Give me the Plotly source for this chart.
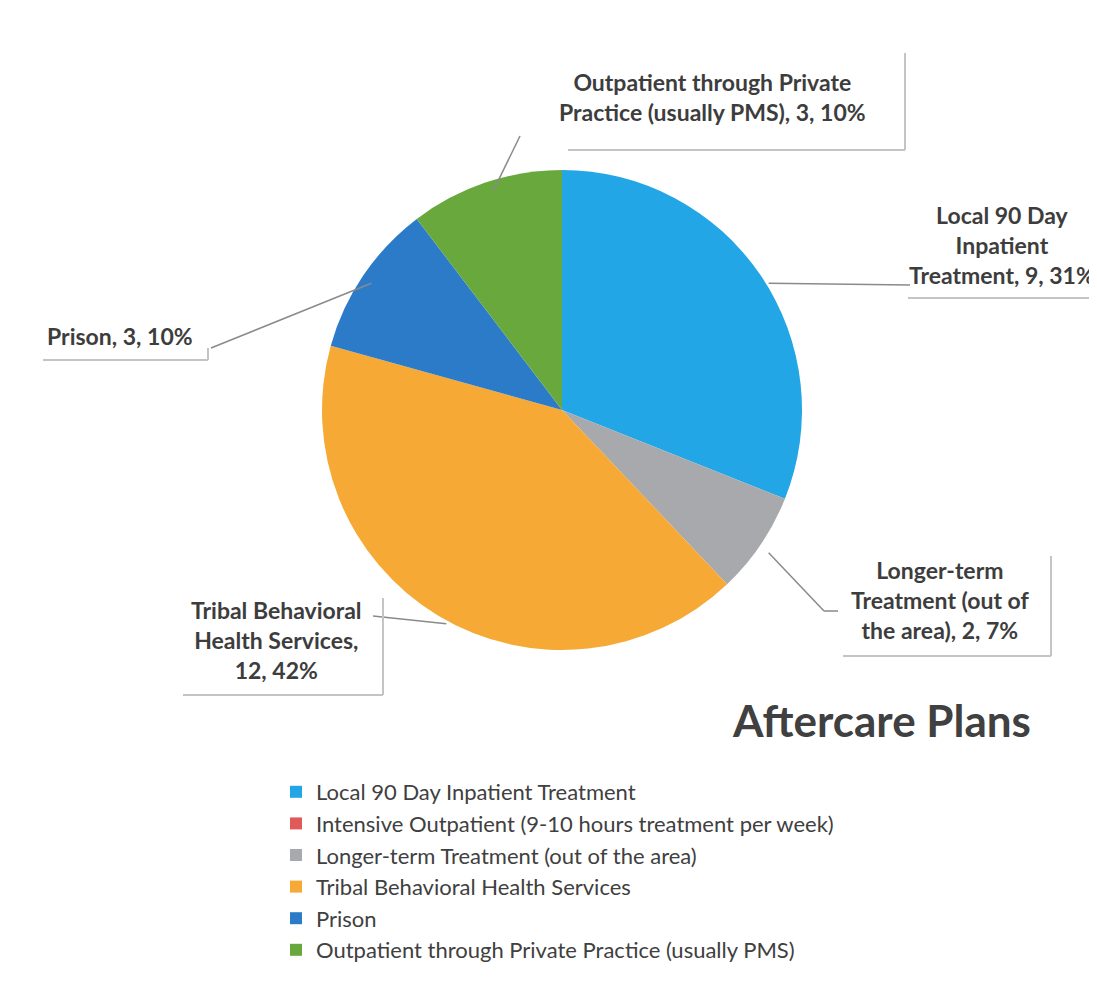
import math
import plotly.graph_objects as go

categories = [
    "Local 90 Day Inpatient Treatment",
    "Intensive Outpatient (9-10 hours treatment per week)",
    "Longer-term Treatment (out of the area)",
    "Tribal Behavioral Health Services",
    "Prison",
    "Outpatient through Private Practice (usually PMS)",
]
values = [9, 0, 2, 12, 3, 3]
colors = ["#22a6e6", "#e05a5a", "#a8a9ad", "#f6a935", "#2b7bc9", "#68a83c"]

label_texts = {
    0: "Local 90 Day<br>Inpatient<br>Treatment, 9, 31%",
    2: "Longer-term<br>Treatment (out of<br>the area), 2, 7%",
    3: "Tribal Behavioral<br>Health Services,<br>12, 42%",
    4: "Prison, 3, 10%",
    5: "Outpatient through Private<br>Practice (usually PMS), 3, 10%",
}

W, H = 1097, 1001
cx, cy, R = 562, 410, 240  # pixel geometry of the pie
dom_off = 8  # plotly renders the pie slightly offset; compensate

fig = go.Figure()
fig.add_trace(go.Pie(
    labels=categories, values=values, sort=False, direction="clockwise",
    rotation=0, marker=dict(colors=colors, line=dict(width=0)),
    textinfo="none", hoverinfo="label+value+percent",
    domain=dict(x=[(cx - dom_off - R) / W, (cx - dom_off + R) / W],
                y=[1 - (cy - dom_off + R) / H, 1 - (cy - dom_off - R) / H]),
    showlegend=True,
))

def px(x):
    return x / W

def py(y):
    return 1 - y / H

label_pos = {
    0: (994, 237),
    2: (932, 592),
    3: (268, 632),
    4: (112, 328),
    5: (705, 89),
}
leader_end = {
    0: [(902, 277)],
    2: [(816, 603), (830, 603)],
    3: [(365, 608)],
    4: [(203, 340)],
    5: [(512, 128)],
}

total = sum(values)
cum = 0
shapes = []
for i, v in enumerate(values):
    start = cum
    cum += v
    if v == 0 or i not in label_texts:
        continue
    mid = (start + v / 2) / total * 2 * math.pi
    sx = cx + R * math.sin(mid)
    sy = cy - R * math.cos(mid)
    pts = [(sx, sy)] + leader_end[i]
    for (x0, y0), (x1, y1) in zip(pts[:-1], pts[1:]):
        shapes.append(dict(type="line", xref="paper", yref="paper",
                           x0=px(x0), y0=py(y0), x1=px(x1), y1=py(y1),
                           line=dict(color="#8a8a8a", width=1.5)))

box_edges = [
    [(560, 142), (897, 142), (897, 45)],
    [(900, 290), (1097, 290)],
    [(835, 648), (1043, 648), (1043, 548)],
    [(175, 687), (375, 687), (375, 590)],
    [(35, 352), (200, 352), (200, 340)],
]
for pts in box_edges:
    for (x0, y0), (x1, y1) in zip(pts[:-1], pts[1:]):
        shapes.append(dict(type="line", xref="paper", yref="paper",
                           x0=px(x0), y0=py(y0), x1=px(x1), y1=py(y1),
                           line=dict(color="#c4c4c4", width=2)))

annotations = []
for i, txt in label_texts.items():
    x, y = label_pos[i]
    annotations.append(dict(text="<b>" + txt + "</b>", x=px(x), y=py(y), xref="paper", yref="paper",
                            showarrow=False, align="center", xanchor="center", yanchor="middle",
                            font=dict(family="Lato", size=23, color="#3d3d3d")))

annotations.append(dict(text="<b>Aftercare Plans</b>", x=px(1025), y=py(712), xref="paper", yref="paper",
                        showarrow=False, xanchor="right", yanchor="middle",
                        font=dict(family="Lato", size=44, color="#404040")))

fig.update_layout(
    width=W, height=H, margin=dict(l=0, r=0, t=0, b=0),
    paper_bgcolor="white", plot_bgcolor="white",
    shapes=shapes, annotations=annotations,
    legend=dict(x=px(268), y=py(763), xanchor="left", yanchor="top",
                font=dict(family="Lato", size=22, color="#404040"),
                bgcolor="rgba(0,0,0,0)", itemwidth=30, traceorder="normal"),
)

fig.write_html("out.html")
